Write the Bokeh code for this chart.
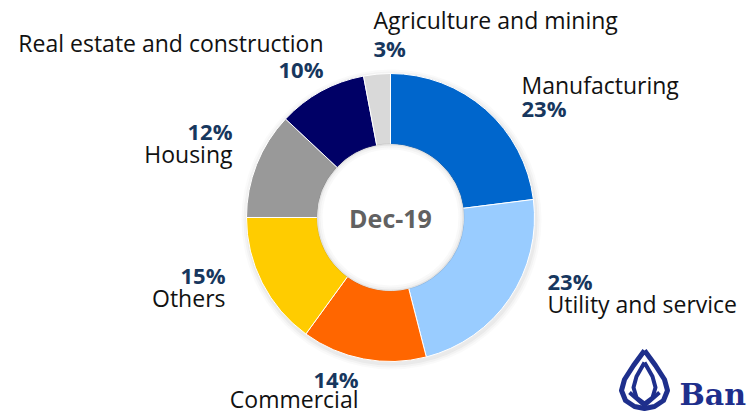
import numpy as np
from bokeh.plotting import figure
from bokeh.models import Range1d, ColumnDataSource
from bokeh.core.properties import value
from bokeh.embed import file_html
from bokeh.resources import INLINE

# ---- data ----
sectors = ["Manufacturing", "Utility and service", "Commercial", "Others",
           "Housing", "Real estate and construction", "Agriculture and mining"]
shares = [23, 23, 14, 15, 12, 10, 3]
colors = ["#0066CC", "#99CCFF", "#FF6600", "#FFCC00", "#999999", "#000066", "#D9D9D9"]
center_label = "Dec-19"

# ---- layout (reference pixel coords: x, y from top) ----
CX, CY = 390, 217
R_OUT, R_IN = 144, 73
# label anchors: (x, y_pct, y_name, align)
label_pos = {
    "Manufacturing": (521, 107, 84, "left"),
    "Utility and service": (547, 280, 303, "left"),
    "Commercial": (358, 378, 398, "right"),
    "Others": (225, 274, 297, "right"),
    "Housing": (232, 130, 153, "right"),
    "Real estate and construction": (323, 68, 42, "right"),
    "Agriculture and mining": (373, 47, 19, "left"),
}

W, H = 748, 414
p = figure(width=W, height=H, output_backend="svg", toolbar_location=None,
           x_range=Range1d(0, W), y_range=Range1d(0, H),
           x_axis_location=None, y_axis_location=None, min_border=0)
p.grid.visible = False
p.outline_line_color = None
p.background_fill_color = "white"
p.border_fill_color = "white"

def fy(y):
    return H - y

FONT = value("Open Sans")

# soft shadow behind ring
for k, a in [(6, 0.04), (4, 0.06), (2, 0.08)]:
    p.circle(x=[CX + 1], y=[fy(CY) - 2], radius=R_OUT + k, fill_color="#808080",
             fill_alpha=a, line_color=None)

frac = np.array(shares, dtype=float) / np.sum(shares)
cum = np.concatenate([[0], np.cumsum(frac)])
start = np.pi / 2 - cum[:-1] * 2 * np.pi
end = np.pi / 2 - cum[1:] * 2 * np.pi
src = ColumnDataSource(dict(start=start, end=end, color=colors))
p.annular_wedge(x=CX, y=fy(CY), inner_radius=R_IN, outer_radius=R_OUT,
                start_angle="start", end_angle="end", direction="clock",
                fill_color="color", line_color="white", line_width=1, source=src)

# white hole with soft inner edge
p.circle(x=[CX], y=[fy(CY)], radius=R_IN, fill_color="white", line_color=None)
for k, a in [(0, 0.22), (2, 0.10), (4, 0.05)]:
    p.circle(x=[CX], y=[fy(CY)], radius=R_IN - k, fill_color=None,
             line_color="#808080", line_alpha=a, line_width=2)

p.text(x=[CX], y=[fy(CY)], text=[center_label], text_align="center",
       text_baseline="middle", text_font=FONT, text_font_size="25px",
       text_font_style="bold", text_color="#616161")

for name, sh in zip(sectors, shares):
    x, ypct, yname, align = label_pos[name]
    p.text(x=[x], y=[fy(yname)], text=[name], text_align=align,
           text_baseline="middle", text_font=FONT,
           text_font_size="23px", text_color="#111111")
    p.text(x=[x], y=[fy(ypct)], text=[f"{sh}%"], text_align=align,
           text_baseline="middle", text_font=FONT,
           text_font_size="22px", text_font_style="bold", text_color="#17375E")

# logo (partial, bottom right)
logo_col = "#1E2F8C"
ox = [644, 633, 624, 621, 625, 634, 644, 654, 663, 667, 664, 655, 644]
oy = [350, 365, 379, 390, 400, 406, 408, 406, 400, 390, 379, 365, 350]
p.line(x=ox, y=[fy(v) for v in oy], line_color=logo_col, line_width=5, line_join="round")
ix = [644, 636, 633, 636, 644, 652, 655, 652, 644]
iy = [362, 376, 387, 397, 403, 397, 387, 376, 362]
p.line(x=ix, y=[fy(v) for v in iy], line_color=logo_col, line_width=4, line_join="round")
p.line(x=[629, 644, 659], y=[fy(392), fy(405), fy(392)], line_color=logo_col, line_width=4)
p.text(x=[679], y=[fy(394)], text=["Ban"], text_align="left",
       text_baseline="middle", text_font=value("DejaVu Serif"),
       text_font_size="30px", text_font_style="bold", text_color=logo_col)

open("out.html", "w").write(file_html(p, INLINE))
